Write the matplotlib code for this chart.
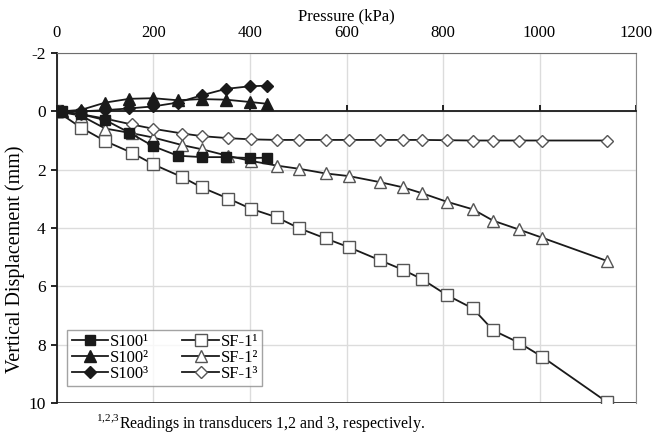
import matplotlib.pyplot as plt

plt.rcParams['font.family'] = 'Liberation Serif'
plt.rcParams['mathtext.fontset'] = 'custom'
plt.rcParams['mathtext.rm'] = 'Liberation Serif'
plt.rcParams['axes.unicode_minus'] = False

# Plate load test readings, pressure in kPa, displacement in mm (negative = heave)
p_s100 = [0, 10, 50, 100, 150, 200, 250, 300, 350, 400, 435]
s100_1 = [0, 0, 0.1, 0.3, 0.73, 1.2, 1.52, 1.57, 1.57, 1.6, 1.59]
s100_2 = [0, 0, -0.05, -0.3, -0.43, -0.45, -0.38, -0.42, -0.4, -0.32, -0.26]
s100_3 = [0, 0, 0.0, -0.04, -0.1, -0.17, -0.3, -0.55, -0.77, -0.86, -0.88]

p_sf = [0, 50, 100, 155, 200, 260, 300, 355, 402, 455, 502, 557, 605, 670,
        718, 757, 808, 862, 904, 957, 1005, 1140]
sf_1 = [0, 0.56, 1.02, 1.42, 1.82, 2.26, 2.61, 2.99, 3.34, 3.63, 4.01, 4.36,
        4.66, 5.11, 5.44, 5.76, 6.30, 6.76, 7.51, 7.93, 8.41, 9.97]
sf_2 = [0, 0.15, 0.59, 0.75, 0.9, 1.16, 1.30, 1.53, 1.70, 1.86, 1.97, 2.13,
        2.22, 2.43, 2.61, 2.81, 3.10, 3.36, 3.75, 4.05, 4.33, 5.13]
sf_3 = [0, 0.1, 0.25, 0.45, 0.6, 0.76, 0.85, 0.92, 0.96, 0.98, 0.98, 0.98,
        0.98, 0.98, 0.98, 0.98, 0.99, 1.0, 1.0, 1.0, 1.0, 1.0]

fig = plt.figure(figsize=(6.52, 4.41), dpi=100)
ax = fig.add_axes([0.0874, 0.0862, 0.8881, 0.7936])

line_kw = dict(color='#1a1a1a', lw=1.3)
open_kw = dict(mfc='white', mec='#555555', mew=1.0)

# open markers first so the filled ones sit on top
ax.plot(p_sf, sf_1, marker='s', ms=8, label='SF-1¹', zorder=3, **line_kw, **open_kw)
ax.plot(p_sf, sf_2, marker='^', ms=8.5, label='SF-1²', zorder=3, **line_kw, **open_kw)
ax.plot(p_sf, sf_3, marker='D', ms=6.5, label='SF-1³', zorder=3, **line_kw, **open_kw)

ax.plot(p_s100, s100_1, marker='s', ms=7.5, mfc='#1a1a1a', mec='#1a1a1a',
        label='S100¹', zorder=4, **line_kw)
ax.plot(p_s100, s100_2, marker='^', ms=8, mfc='#1a1a1a', mec='#1a1a1a',
        label='S100²', zorder=4, **line_kw)
ax.plot(p_s100, s100_3, marker='D', ms=6.5, mfc='#1a1a1a', mec='#1a1a1a',
        label='S100³', zorder=4, **line_kw)

ax.set_xlim(0, 1200)
ax.set_ylim(10, -2)
ax.set_xticks(range(0, 1201, 200))
ax.set_yticks(range(-2, 11, 2))

# x axis crosses at zero displacement, labels on top
ax.spines['bottom'].set_position(('data', 0))
ax.spines['bottom'].set_color('#1a1a1a')
ax.spines['bottom'].set_linewidth(1.3)
ax.spines['top'].set_color('#6e6e6e')
ax.spines['right'].set_color('#8c8c8c')
ax.spines['left'].set_color('#1a1a1a')
ax.spines['left'].set_linewidth(1.3)
ax.tick_params(axis='x', which='both', top=False, bottom=True, direction='in',
               length=4, width=1.2, labelbottom=False, labeltop=True,
               labelsize=12, pad=9)
ax.tick_params(axis='y', direction='out', length=4, width=1.2, labelsize=12.5, pad=4)
ax.axhline(10, color='#333333', lw=1.3, zorder=2)

ax.grid(True, color='#dcdcdc', lw=1.0, zorder=0)
ax.set_axisbelow(True)

ax.xaxis.set_label_position('top')
ax.set_xlabel('Pressure (kPa)', fontsize=12, labelpad=3)
ax.set_ylabel('Vertical Displacement (mm)', fontsize=14.5)
ax.yaxis.set_label_coords(-0.055, 0.41)

handles, labels = ax.get_legend_handles_labels()
order = [3, 4, 5, 0, 1, 2]
leg = ax.legend([handles[i] for i in order], [labels[i] for i in order],
                ncol=2, loc='lower left', bbox_to_anchor=(0.018, 0.048),
                borderaxespad=0, fontsize=12, frameon=True, fancybox=False,
                handlelength=2.2, handletextpad=0.1, columnspacing=2.0,
                labelspacing=0.0, borderpad=0.25)
leg.get_frame().set_edgecolor('#8c8c8c')
leg.get_frame().set_linewidth(1.0)

fig.text(0.148, 0.017, r'$^{1{,}2{,}3}$Readings in transducers 1,2 and 3, respectively.',
         fontsize=11.5, ha='left', va='bottom')

fig.savefig('out.png', dpi=100)
